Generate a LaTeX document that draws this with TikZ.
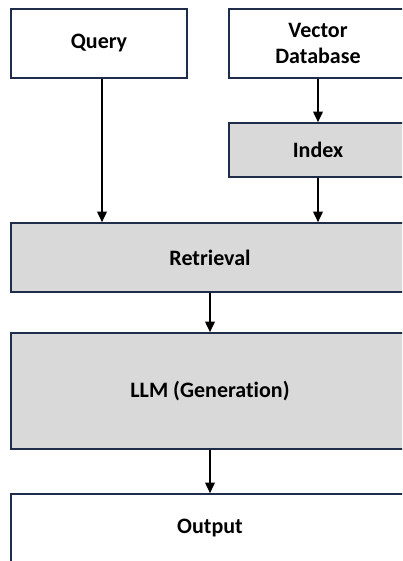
\documentclass[tikz,border=0pt]{standalone}
\usepackage{fontspec}
\setmainfont{Carlito}[Ligatures={NoCommon,NoRare}]
\usetikzlibrary{arrows.meta}
\definecolor{boxline}{HTML}{1F2D4A}
\definecolor{boxgray}{HTML}{D9D9D9}
\tikzset{
  block/.style={draw=boxline, line width=1.6pt, fill=white, inner sep=0pt,
    align=center, font=\bfseries\fontsize{22}{26}\selectfont},
  grayblock/.style={block, fill=boxgray},
  flow/.style={line width=1.7pt, -{Triangle[width=9.5pt,length=10.5pt]}}
}
\begin{document}
\begin{tikzpicture}[x=1pt, y=-1pt]
  \useasboundingbox (0,0) rectangle (402,561);
  \clip (0,0) rectangle (402,561);
  \fill[white] (0,0) rectangle (402,561);
  % input boxes
  \node[block, minimum width=176pt, minimum height=69pt] (query) at (99,43.5) {Query};
  \node[block, minimum width=178pt, minimum height=69pt] (vdb) at (318,43.5) {Vector\\Database};
  \node[grayblock, minimum width=178pt, minimum height=54pt] (index) at (318,150) {Index};
  % pipeline stages
  \node[grayblock, minimum width=398pt, minimum height=69pt] (retr) at (210,257.5) {Retrieval};
  \node[grayblock, minimum width=398pt, minimum height=116pt] (llm) at (210,391) {LLM (Generation)};
  \node[block, minimum width=398pt, minimum height=68pt] (out) at (210,528) {Output};
  % connectors
  \coordinate (qs) at ([xshift=3pt]query.south);
  \draw[flow] (qs) -- (qs |- retr.north);
  \draw[flow] (vdb.south) -- (index.north);
  \draw[flow] (index.south) -- (index.south |- retr.north);
  \draw[flow] (retr.south) -- (llm.north);
  \draw[flow] (llm.south) -- (out.north);
\end{tikzpicture}
\end{document}
